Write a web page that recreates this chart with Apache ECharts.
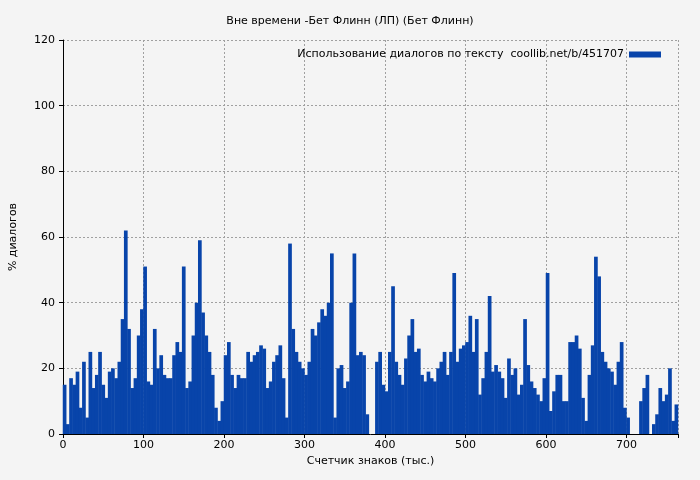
<!DOCTYPE html>
<html>
<head>
<meta charset="UTF-8">
<script src="https://cdn.jsdelivr.net/npm/echarts@6/dist/echarts.min.js"></script>
<style>
    body { margin: 0; background: #f4f4f4; }
    #chart { width: 700px; height: 480px; }
</style>
</head>
<body>
<div id="chart"></div>
<script>
// позиция первого столбца и шаг (тыс. знаков)
const xStart = 0;
const xStep = 4;
// % диалогов по участкам текста
const dialogPct = [
    15, 3, 17, 15, 19, 8, 22, 5, 25, 14, 18, 25, 15, 11, 19, 20, 17, 22, 35, 62,
    32, 14, 17, 30, 38, 51, 16, 15, 32, 20, 24, 18, 17, 17, 24, 28, 25, 51, 14, 16,
    30, 40, 59, 37, 30, 25, 18, 8, 4, 10, 24, 28, 18, 14, 18, 17, 17, 25, 22, 24,
    25, 27, 26, 14, 16, 22, 24, 27, 17, 5, 58, 32, 25, 22, 20, 18, 22, 32, 30, 34,
    38, 36, 40, 55, 5, 20, 21, 14, 16, 40, 55, 24, 25, 24, 6, 0, 0, 22, 25, 15,
    13, 25, 45, 22, 18, 15, 23, 30, 35, 25, 26, 18, 16, 19, 17, 16, 20, 22, 25, 18,
    25, 49, 22, 26, 27, 28, 36, 25, 35, 12, 17, 25, 42, 19, 21, 19, 17, 11, 23, 18,
    20, 12, 15, 35, 21, 16, 14, 12, 10, 17, 49, 7, 13, 18, 18, 10, 10, 28, 28, 30,
    26, 11, 4, 18, 27, 54, 48, 25, 22, 20, 19, 15, 22, 28, 8, 5, 0, 0, 0, 10,
    14, 18, 0, 3, 6, 14, 10, 12, 20, 4, 9
];
const xMax = 764;
const seriesName = 'Использование диалогов по тексту  coollib.net/b/451707';

const chart = echarts.init(document.getElementById('chart'));
const font = 'DejaVu Sans';

chart.setOption({
    backgroundColor: '#f4f4f4',
    animation: false,
    textStyle: { fontFamily: font },
    title: {
        text: 'Вне времени -Бет Флинн (ЛП) (Бет Флинн)',
        left: 'center',
        top: 11,
        textStyle: { fontSize: 11, fontWeight: 'normal', color: '#000', fontFamily: font }
    },
    legend: {
        data: [seriesName],
        right: 34,
        top: 44,
        align: 'right',
        icon: 'rect',
        itemWidth: 32,
        itemHeight: 6,
        itemGap: 6,
        textStyle: { fontSize: 11, color: '#000', fontFamily: font }
    },
    grid: { left: 62, right: 22, top: 40, bottom: 46 },
    xAxis: {
        type: 'value',
        min: 0,
        max: xMax,
        interval: 100,
        name: 'Счетчик знаков (тыс.)',
        nameLocation: 'middle',
        nameGap: 22,
        nameTextStyle: { fontSize: 11, color: '#000' },
        axisLine: { lineStyle: { color: '#000' } },
        axisTick: { lineStyle: { color: '#000' }, length: 4 },
        axisLabel: {
            fontSize: 11, color: '#000', margin: 6,
            formatter: v => (v % 100 === 0 ? v : '')
        },
        splitLine: { show: true, lineStyle: { color: '#a0a0a0', type: [2, 2] } }
    },
    yAxis: {
        type: 'value',
        min: 0,
        max: 120,
        interval: 20,
        name: '% диалогов',
        nameLocation: 'middle',
        nameGap: 44,
        nameTextStyle: { fontSize: 11, color: '#000' },
        axisLine: { show: true, lineStyle: { color: '#000' } },
        axisTick: { show: true, lineStyle: { color: '#000' }, length: 4 },
        axisLabel: { fontSize: 11, color: '#000', margin: 8 },
        splitLine: { show: true, lineStyle: { color: '#a0a0a0', type: [2, 2] } }
    },
    series: [{
        name: seriesName,
        type: 'bar',
        barWidth: 3.7,
        itemStyle: { color: '#0844aa' },
        data: dialogPct.map((v, i) => [xStart + xStep * i + 2, v])
    }]
});
</script>
</body>
</html>
